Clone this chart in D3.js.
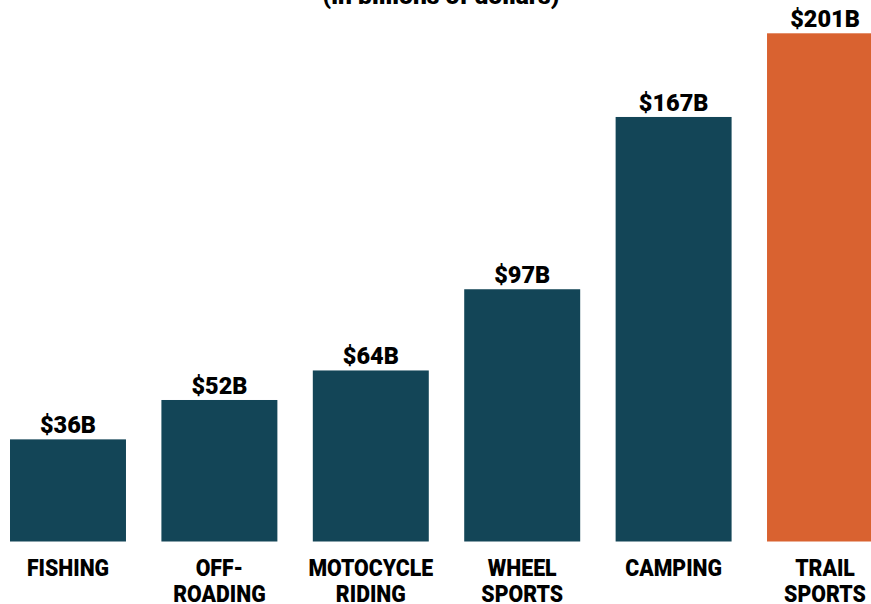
<!DOCTYPE html>
<html>
<head>
<meta charset="utf-8">
<script src="https://cdn.jsdelivr.net/npm/d3@7"></script>
<style>
  html, body { margin: 0; padding: 0; background: #ffffff; }
  svg { display: block; }
  text { font-family: Roboto, "Liberation Sans", sans-serif; font-weight: 900; fill: #000; }
</style>
</head>
<body>
<svg id="chart" width="871" height="604"></svg>
<script>
// Spending by activity (in billions of dollars)
const categories = [
  ["FISHING"],
  ["OFF-", "ROADING"],
  ["MOTOCYCLE", "RIDING"],
  ["WHEEL", "SPORTS"],
  ["CAMPING"],
  ["TRAIL", "SPORTS"]
];
const values = [36, 52, 64, 97, 167, 201];
const highlight = [false, false, false, false, false, true];
const valueLabels = ["$36B", "$52B", "$64B", "$97B", "$167B", "$201B"];
const subtitle = "(in billions of dollars)";

const svg = d3.select("#chart");

const keys = categories.map(c => c.join(" "));

const x = d3.scaleBand()
  .domain(keys)
  .range([10, 883])
  .paddingInner(0.234)
  .paddingOuter(0);

const y = d3.scaleLinear()
  .domain([-5.5, 201])
  .range([541.5, 33.3]);

const rows = keys.map((k, i) => ({
  key: k, lines: categories[i], value: values[i],
  label: valueLabels[i], hi: highlight[i]
}));

// subtitle, running off the top edge
svg.append("text")
  .attr("transform", "translate(441,4) scale(1.12,1.1)")
  .attr("text-anchor", "middle")
  .style("font-size", "22px")
  .text(subtitle);

// bars
svg.append("g").selectAll("rect")
  .data(rows)
  .join("rect")
  .attr("x", d => x(d.key))
  .attr("width", x.bandwidth())
  .attr("y", d => y(d.value))
  .attr("height", d => y.range()[0] - y(d.value))
  .attr("fill", d => d.hi ? "#d96230" : "#134557");

// value labels
svg.append("g").selectAll("text")
  .data(rows)
  .join("text")
  .attr("transform", d => `translate(${x(d.key) + x.bandwidth() / 2},${y(d.value) - 6}) scale(1.12,1.1)`)
  .attr("text-anchor", "middle")
  .style("font-size", "21px")
  .text(d => d.label);

// category labels
const cat = svg.append("g").selectAll("g")
  .data(rows)
  .join("g")
  .attr("transform", d => `translate(${x(d.key) + x.bandwidth() / 2},0)`);

cat.selectAll("text")
  .data(d => d.lines)
  .join("text")
  .attr("transform", (t, j) => `translate(0,${576 + j * 25.5}) scale(0.99,1.1)`)
  .attr("text-anchor", "middle")
  .style("font-size", "21.5px")
  .text(t => t);
</script>
</body>
</html>
